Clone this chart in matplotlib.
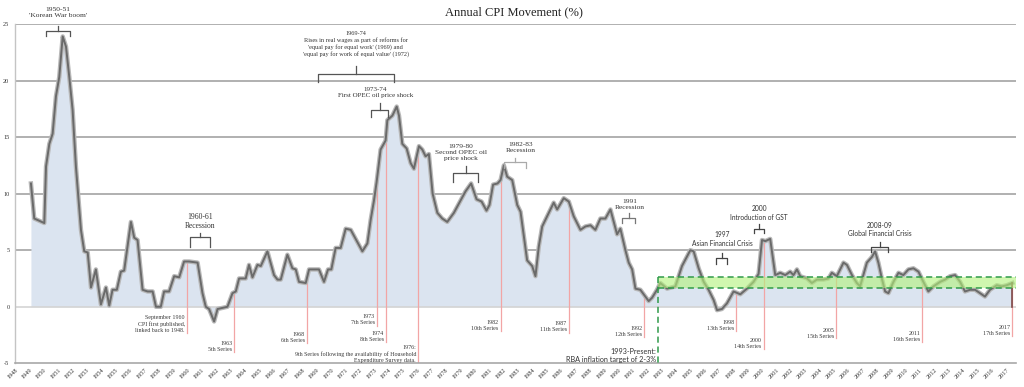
import numpy as np
import matplotlib
matplotlib.use("Agg")
import matplotlib.pyplot as plt

plt.rcParams["font.family"] = ["Liberation Serif", "DejaVu Serif"]

# annual CPI movement (%) (decimal year, value)
YEARS = [1949.11, 1949.34, 1950.04, 1950.16, 1950.39, 1950.62, 1950.85, 1951.08, 1951.32, 1951.55,
         1951.78, 1952.01, 1952.24, 1952.59, 1952.82, 1953.06, 1953.29, 1953.63, 1953.98, 1954.33,
         1954.56, 1954.79, 1955.09, 1955.37, 1955.60, 1956.07, 1956.30, 1956.53, 1956.88, 1957.23,
         1957.58, 1957.81, 1958.15, 1958.38, 1958.73, 1959.08, 1959.43, 1959.77, 1960.12, 1960.71,
         1961.05, 1961.28, 1961.51, 1961.86, 1962.10, 1962.79, 1963.14, 1963.37, 1963.60, 1964.06,
         1964.29, 1964.53, 1964.88, 1965.11, 1965.57, 1966.03, 1966.27, 1966.50, 1966.96, 1967.31,
         1967.54, 1967.77, 1968.24, 1968.47, 1969.16, 1969.51, 1969.79, 1970.02, 1970.32, 1970.67,
         1971.02, 1971.37, 1972.18, 1972.53, 1972.76, 1972.99, 1973.17, 1973.45, 1973.80, 1973.92,
         1974.27, 1974.57, 1974.73, 1974.96, 1975.26, 1975.54, 1975.77, 1976.12, 1976.35, 1976.58,
         1976.81, 1977.07, 1977.40, 1977.74, 1978.09, 1978.55, 1979.02, 1979.36, 1979.75, 1980.13,
         1980.48, 1980.82, 1981.03, 1981.28, 1981.59, 1981.80, 1982.03, 1982.26, 1982.61, 1982.96,
         1983.19, 1983.65, 1984.00, 1984.23, 1984.46, 1984.70, 1985.16, 1985.50, 1985.74, 1986.20,
         1986.55, 1986.89, 1987.36, 1987.71, 1988.06, 1988.40, 1988.75, 1989.10, 1989.45, 1989.91,
         1990.14, 1990.49, 1990.72, 1990.96, 1991.19, 1991.53, 1992.11, 1992.35, 1992.69, 1992.92,
         1993.39, 1993.97, 1994.43, 1995.01, 1995.24, 1995.59, 1995.94, 1996.28, 1996.63, 1996.87,
         1997.21, 1997.56, 1998.02, 1998.49, 1998.95, 1999.41, 1999.76, 2000.00, 2000.23, 2000.57,
         2000.92, 2001.27, 2001.62, 2001.96, 2002.19, 2002.43, 2002.66, 2003.13, 2003.47, 2003.82,
         2004.28, 2004.63, 2004.86, 2005.21, 2005.67, 2005.91, 2006.26, 2006.60, 2006.83, 2007.30,
         2007.65, 2007.87, 2008.10, 2008.34, 2008.57, 2008.80, 2009.15, 2009.50, 2009.84, 2010.19,
         2010.54, 2010.89, 2011.23, 2011.58, 2011.93, 2012.40, 2012.74, 2013.09, 2013.44, 2013.79,
         2014.13, 2014.48, 2014.83, 2015.18, 2015.52, 2015.87, 2016.34, 2016.69, 2017.03, 2017.43]
CPI = [10.9, 7.8, 7.4, 12.4, 14.4, 15.3, 18.6, 20.3, 23.9, 23.0,
       20.3, 17.4, 12.4, 6.8, 4.9, 4.8, 1.7, 3.3, 0.2, 1.7,
       0.1, 1.5, 1.5, 3.1, 3.2, 7.5, 6.1, 5.9, 1.5, 1.35,
       1.35, 0.0, 0.0, 1.35, 1.35, 2.7, 2.6, 4.0, 4.0, 3.9,
       1.2, 0.0, -0.2, -1.3, -0.2, 0.0, 1.2, 1.35, 2.5, 2.5,
       3.7, 2.6, 3.7, 3.6, 4.9, 2.8, 2.4, 2.4, 4.6, 3.4,
       3.3, 2.2, 2.1, 3.3, 3.3, 2.2, 3.3, 3.3, 5.2, 5.2,
       6.9, 6.8, 4.9, 5.6, 7.7, 9.4, 11.0, 13.9, 14.7, 16.5,
       16.9, 17.7, 16.9, 14.4, 14.0, 12.7, 12.2, 14.2, 13.9, 13.3,
       13.5, 10.0, 8.3, 7.8, 7.5, 8.3, 9.4, 10.2, 10.9, 9.5,
       9.3, 8.5, 9.0, 10.8, 10.9, 11.2, 12.5, 11.5, 11.2, 9.0,
       8.4, 4.1, 3.6, 2.7, 5.3, 7.1, 8.3, 9.2, 8.6, 9.6,
       9.3, 8.0, 6.8, 7.1, 7.2, 6.8, 7.8, 7.8, 8.6, 6.4,
       6.9, 5.0, 3.9, 3.3, 1.6, 1.5, 0.5, 0.8, 1.5, 2.1,
       1.6, 1.8, 3.6, 5.0, 4.9, 3.4, 2.2, 1.5, 0.6, -0.3,
       -0.2, 0.3, 1.35, 1.1, 1.6, 2.2, 2.9, 5.9, 5.8, 6.0,
       2.8, 3.0, 2.8, 3.1, 2.8, 3.3, 2.7, 2.5, 2.1, 2.4,
       2.4, 2.5, 3.0, 2.7, 3.9, 3.7, 2.8, 2.1, 1.8, 3.9,
       4.4, 4.9, 3.9, 2.5, 1.35, 1.2, 2.2, 3.0, 2.8, 3.3,
       3.4, 3.1, 2.2, 1.35, 1.8, 2.2, 2.4, 2.7, 2.8, 2.2,
       1.35, 1.5, 1.5, 1.2, 0.9, 1.5, 1.9, 1.8, 1.9, 2.1]

TICK_YEARS = list(range(1948, 2018))

# RBA target band as drawn on the chart
TARGET_START = 1992.78
TARGET_LOW = 1.65
TARGET_HIGH = 2.6

# CPI series changes
SERIES_X = [1959.96, 1963.25, 1968.31, 1973.17, 1973.80, 1976.05, 1981.80, 1986.55,
            1991.81, 1998.19, 2000.11, 2005.16, 2011.16, 2017.42]
SERIES_END = [-2.35, -3.98, -3.18, -1.68, -3.15, -5.0, -2.15, -2.35,
              -2.65, -2.15, -3.77, -2.79, -3.09, -2.59]
SERIES_LABEL_Y = [-1.54, -3.50, -2.72, -1.15, -2.62, -4.19, -1.64, -1.73,
                  -2.21, -1.63, -3.24, -2.35, -2.62, -2.09]
SERIES_TEXT = [
    "September 1960\nCPI first published,\nlinked back to 1948.",
    "1963\n5th Series",
    "1968\n6th Series",
    "1973\n7th Series",
    "1974\n8th Series",
    "1976:\n9th Series following the availability of Household\nExpenditure Survey data.",
    "1982\n10th Series",
    "1987\n11th Series",
    "1992\n12th Series",
    "1998\n13th Series",
    "2000\n14th Series",
    "2005\n15th Series",
    "2011\n16th Series",
    "2017\n17th Series",
]

SANS = ["Lato", "DejaVu Sans"]
SERIF = ["Liberation Serif", "DejaVu Serif"]

# text, text x, text y, font size, family, bracket left, right, level, drop, stem, bracket colour
EVENTS = [
    ("1950-51\n'Korean War boom'", 1950.99, 26.06, 5.4, SERIF, 1950.16, 1951.82, 24.40, 0.44, 0.42, "#555555"),
    ("1960-61\nRecession", 1960.87, 7.53, 5.5, SERIF, 1960.19, 1961.54, 6.14, 0.9, 0.4, "#555555"),
    ("1969-74\nRises in real wages as part of reforms for\n'equal pay for equal work' (1969) and\n"
     "'equal pay for work of equal value' (1972)", 1971.71, 23.25, 4.5, SERIF,
     1969.09, 1974.38, 20.57, 0.73, 0.74, "#555555"),
    ("1973-74\nFirst OPEC oil price shock", 1973.10, 18.94, 5.0, SERIF, 1972.80, 1973.96, 17.39, 0.6, 0.59, "#555555"),
    ("1979-80\nSecond OPEC oil\nprice shock", 1979.02, 13.66, 5.3, SERIF, 1978.48, 1980.25, 11.79, 0.74, 0.68, "#555555"),
    ("1982-83\nRecession", 1983.19, 14.10, 5.3, SERIF, 1982.07, 1983.56, 12.77, 0.53, 0.35, "#aaaaaa"),
    ("1991\nRecession", 1990.77, 9.04, 5.3, SERIF, 1990.26, 1991.18, 7.82, 0.45, 0.44, "#777777"),
    ("1997\nAsian Financial Crisis", 1997.21, 5.97, 4.8, SANS, 1996.80, 1997.58, 4.28, 0.5, 0.49, "#444444"),
    ("2000\nIntroduction of GST", 1999.81, 8.30, 4.8, SANS, 1999.44, 2000.14, 6.87, 0.38, 0.42, "#444444"),
    ("2008-09\nGlobal Financial Crisis", 2008.17, 6.85, 4.8, SANS, 2007.58, 2008.80, 5.31, 0.45, 0.38, "#444444"),
]

fig = plt.figure(figsize=(10.24, 3.87), dpi=100)
ax = fig.add_axes([15 / 1024, 23.7 / 387, 1001 / 1024, 339.3 / 387])
ax.set_xlim(1948.07, 2017.68)
ax.set_ylim(-5, 25)

for v in [5, 10, 15, 20, 25]:
    ax.axhline(v, color="#a3a3a3", lw=1.2, zorder=0)
ax.axhline(0, color="#d4d4d4", lw=1.2, zorder=1.5)

x = np.array(YEARS)
y = np.array(CPI)
ax.fill_between(x, y, 0, color="#dbe4f0", lw=0, zorder=1)

# series change markers
for sx, se, sy, st in zip(SERIES_X, SERIES_END, SERIES_LABEL_Y, SERIES_TEXT):
    top = np.interp(sx, x, y)
    ax.plot([sx, sx], [top, se], color="#f2a5a5", lw=0.9, zorder=2)
    ax.text(sx - 0.13, sy, st, ha="right", va="center", fontsize=4.3,
            color="#3a3a3a", linespacing=1.25, zorder=6)

ax.plot(x, y, color="#b8b8b8", lw=3.2, solid_joinstyle="round", zorder=3)
ax.plot(x, y, color="#6a6a6a", lw=1.4, solid_joinstyle="round", zorder=3.1)
ax.plot([x[-1], x[-1]], [y[-1], 0], color="#7d4a4a", lw=1.2, zorder=3.2)

# RBA target band
ax.fill_between([TARGET_START, 2017.68], TARGET_LOW, TARGET_HIGH,
                color="#b2f27a", alpha=0.6, lw=0, zorder=4)
for lvl in [TARGET_LOW, TARGET_HIGH]:
    ax.plot([TARGET_START, 2017.68], [lvl, lvl], color="#2f9a4a", lw=1.1,
            ls=(0, (4, 2.5)), zorder=5)
ax.plot([TARGET_START, TARGET_START], [TARGET_HIGH, -5], color="#2f9a4a", lw=1.1,
        ls=(0, (4, 2.5)), zorder=5)
ax.text(TARGET_START - 0.15, -4.3, "1993-Present:\nRBA inflation target of 2-3%",
        ha="right", va="center", fontsize=5.2, family=SANS, color="#333333",
        linespacing=1.2, zorder=6)

# event brackets
for txt, tx, ty, fs, fam, l, r, lvl, drop, stem, bc in EVENTS:
    c = (l + r) / 2
    ax.plot([l, l, r, r], [lvl - drop, lvl, lvl, lvl - drop], color=bc, lw=0.9,
            zorder=6, clip_on=False)
    ax.plot([c, c], [lvl, lvl + stem], color=bc, lw=0.9, zorder=6, clip_on=False)
    ax.text(tx, ty, txt, ha="center", va="center", fontsize=fs, family=fam,
            color="#333333", linespacing=1.25, zorder=6)

ax.set_xticks(TICK_YEARS)
ax.set_xticklabels([str(t) for t in TICK_YEARS], rotation=45, ha="right",
                   rotation_mode="anchor", fontsize=4.5, color="#333333")
ax.set_yticks([-5, 0, 5, 10, 15, 20, 25])
ax.set_yticklabels(["-5", "0", "5", "10", "15", "20", "25"], fontsize=4.5, color="#333333")
ax.tick_params(axis="x", length=0, pad=3)
ax.tick_params(axis="y", length=0, pad=4)

for side in ["top", "right"]:
    ax.spines[side].set_visible(False)
ax.spines["left"].set_color("#c4c4c4")
ax.spines["left"].set_linewidth(1.0)
ax.spines["bottom"].set_color("#a8a8a8")
ax.spines["bottom"].set_linewidth(1.2)

fig.text(0.502, 1 - 12 / 387, "Annual CPI Movement (%)", ha="center", va="center",
         fontsize=9, color="#222222")

fig.savefig("out.png", dpi=100, facecolor="white")
